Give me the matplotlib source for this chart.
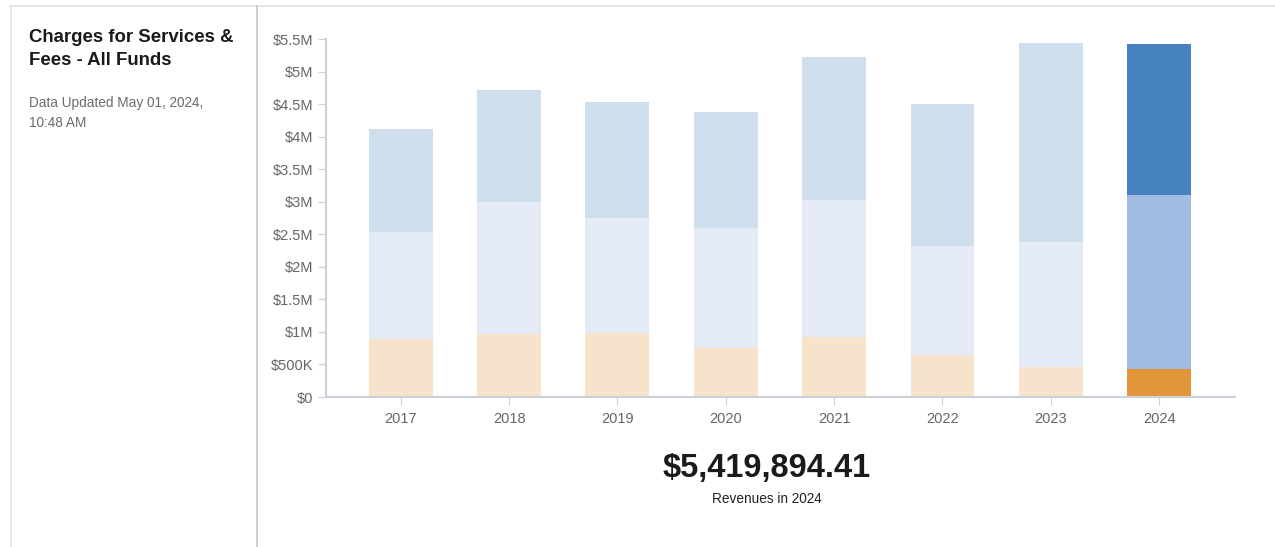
import numpy as np
import matplotlib.pyplot as plt
from matplotlib.ticker import FuncFormatter

plt.rcParams['font.family'] = ['Liberation Sans', 'DejaVu Sans']

years = ['2017', '2018', '2019', '2020', '2021', '2022', '2023', '2024']
# montos por categoria (USD)
otros = [0.015e6, 0.015e6, 0.015e6, 0.015e6, 0.015e6, 0.015e6, 0.012e6, 0.02e6]
naranja = [0.875e6, 0.955e6, 0.965e6, 0.735e6, 0.905e6, 0.635e6, 0.448e6, 0.41e6]
medio = [1.64e6, 2.03e6, 1.77e6, 1.85e6, 2.11e6, 1.67e6, 1.92e6, 2.67e6]
arriba = [1.59e6, 1.72e6, 1.78e6, 1.78e6, 2.19e6, 2.18e6, 3.06e6, 2.319894e6]

col_pale = ['#f0e6c2', '#f7e2cb', '#e4ebf6', '#cfdeed']
col_full = ['#e8c46a', '#e3953a', '#a3bce3', '#4681c0']

fig = plt.figure(figsize=(12.75, 5.47), dpi=100)

# bordes del panel
fig.add_artist(plt.Line2D([10/1275, 1], [1-6/547, 1-6/547], color='#e2e2e2', lw=1.2))
fig.add_artist(plt.Line2D([11/1275, 11/1275], [0, 1-6/547], color='#e2e2e2', lw=1.2))
fig.add_artist(plt.Line2D([257/1275, 257/1275], [0, 1-6/547], color='#c8c8c8', lw=1.2))

fig.text(29/1275, 1-29/547, 'Charges for Services &\nFees - All Funds', fontsize=13.4,
         fontweight='bold', color='#1a1a1a', va='top', linespacing=1.45)
fig.text(29/1275, 1-96/547, 'Data Updated May 01, 2024,\n10:48 AM', fontsize=9.8,
         color='#6b6b6b', va='top', linespacing=1.55)

ax = fig.add_axes([326/1275, 1-397/547, 909/1275, 358/547])
x = np.arange(len(years))
series = [otros, naranja, medio, arriba]
bottom = np.zeros(len(years))
for i, s in enumerate(series):
    s = np.array(s)
    colors = [col_pale[i]] * (len(years) - 1) + [col_full[i]]
    ax.bar(x, s, width=0.59, bottom=bottom, color=colors, linewidth=0, zorder=2)
    bottom = bottom + s

ax.set_ylim(0, 5.5e6)
ax.set_xlim(-0.69, 7.70)
ax.set_yticks(np.arange(0, 5.51e6, 0.5e6))

def fmt(v, pos):
    if v == 0:
        return '$0'
    if v < 1e6:
        return f'${v/1e3:.0f}K'
    return f'${v/1e6:g}M'

ax.yaxis.set_major_formatter(FuncFormatter(fmt))
ax.set_xticks(x)
ax.set_xticklabels(years)
for sp in ['top', 'right']:
    ax.spines[sp].set_visible(False)
ax.spines['left'].set_color('#ccd1d9')
ax.spines['bottom'].set_color('#ccd1d9')
ax.spines['left'].set_linewidth(1.5)
ax.spines['bottom'].set_linewidth(1.5)
ax.tick_params(axis='both', colors='#ccd1d9', labelcolor='#666666', labelsize=10.5, length=6)
ax.tick_params(axis='y', pad=3)
ax.tick_params(axis='x', pad=5)

fig.text(767/1275, 1-469/547, '$5,419,894.41', fontsize=23.5, fontweight='bold',
         color='#1a1a1a', ha='center', va='center')
fig.text(767/1275, 1-499/547, 'Revenues in 2024', fontsize=9.8, color='#222222',
         ha='center', va='center')

fig.savefig('out.png', dpi=100)
